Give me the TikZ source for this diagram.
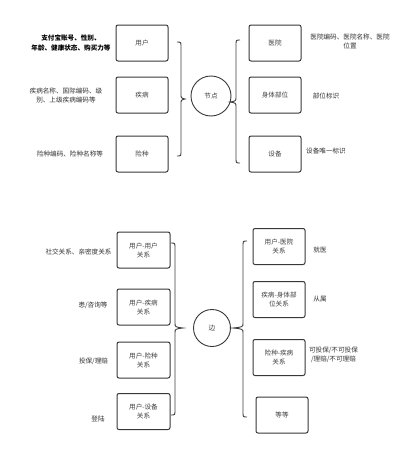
\documentclass[tikz,border=0pt]{standalone}
\usepackage{fontspec}
\setmainfont{Noto Sans CJK SC}
\usetikzlibrary{decorations.pathreplacing}
\begin{document}
\begin{tikzpicture}[x=1pt,y=-1pt,
  box/.style={draw=black!78,line width=1pt,rounded corners=2pt,minimum width=52pt,minimum height=36pt,inner sep=1pt,align=center,font=\fontsize{6.6}{9}\selectfont,text=black!75},
  circ/.style={draw=black!78,line width=0.9pt,ellipse,minimum width=42pt,minimum height=37pt,inner sep=0pt,font=\fontsize{6.6}{9}\selectfont,text=black!75},
  lbl/.style={align=center,inner sep=0pt,font=\fontsize{6.6}{9}\selectfont,text=black!80},
  brc/.style={draw=black!75,line width=0.9pt},
]
\useasboundingbox (0,0) rectangle (408,450);
\fill[white] (0,0) rectangle (408,450);
% ---------- top half ----------
\node[box] (u) at (142,43) {用户};
\node[box] (d) at (142,95) {疾病};
\node[box] (i) at (142,154) {险种};
\node[box] (h) at (275,43) {医院};
\node[box] (b) at (275,95) {身体部位};
\node[box] (e) at (275,154) {设备};
\node[draw=black!78,line width=0.9pt,circle,minimum size=40pt,inner sep=0pt,font=\fontsize{6.6}{9}\selectfont,text=black!75] (n) at (211,96) {节点};
\node[lbl,font=\fontsize{6.6}{10}\selectfont\bfseries,text=black] (lu) at (71,43) {支付宝账号、性别、\\年龄、健康状态、购买力等};
\node[lbl] (ld) at (66,95) {疾病名称、国际编码、级\\别、上级疾病编码等};
\node[lbl] (li) at (70,154) {险种编码、险种名称等};
\node[lbl] (lh) at (350,41) {医院编码、医院名称、医院\\位置};
\node[lbl] (lb) at (326,96) {部位标识};
\node[lbl] (le) at (326,151) {设备唯一标识};
% braces top
\draw[brc] (177,42) .. controls (181,42) .. (181,47) -- (181,94) .. controls (181,98) .. (185,99) .. controls (181,100) .. (181,104) -- (181,151) .. controls (181,156) .. (177,156);
\draw[brc] (240,40) .. controls (236,40) .. (236,45) -- (236,97) .. controls (236,101) .. (230,102) .. controls (236,103) .. (236,107) -- (236,158) .. controls (236,163) .. (240,163);
% ---------- bottom half ----------
\node[box,minimum width=53pt] (uu) at (143.5,250) {用户-用户\\关系};
\node[box,minimum width=53pt] (ud) at (143.5,307) {用户-疾病\\关系};
\node[box,minimum width=53pt] (ui) at (143.5,360) {用户-险种\\关系};
\node[box,minimum width=53pt] (ue) at (143.5,411.5) {用户-设备\\关系};
\node[box] (uh) at (279,246.5) {用户-医院\\关系};
\node[box] (db) at (279,299.5) {疾病-身体部\\位关系};
\node[box] (id) at (279,357.5) {险种-疾病\\关系};
\node[box] (etc) at (282,415) {等等};
\node[draw=black!78,line width=0.9pt,circle,minimum size=37pt,inner sep=0pt,font=\fontsize{6.6}{9}\selectfont,text=black!75] (edge) at (212,328) {边};
\node[lbl] (luu) at (78.5,252) {社交关系、亲密度关系};
\node[lbl] (lud) at (93,305) {患/咨询等};
\node[lbl] (lui) at (93.5,361) {投保/理赔};
\node[lbl] (lue) at (98,419) {登陆};
\node[lbl] (luh) at (320,250) {就医};
\node[lbl] (ldb) at (320,299) {从属};
\node[lbl] (lid) at (333.5,354.5) {可投保/不可投保\\/理赔/不可理赔};
% braces bottom
\draw[brc] (171,243) .. controls (175,243) .. (175,248) -- (175,323) .. controls (175,327) .. (183,328) .. controls (175,329) .. (175,333) -- (175,410) .. controls (175,415) .. (171,415);
\draw[brc] (247,241) .. controls (243,241) .. (243,246) -- (243,323) .. controls (243,327) .. (233,328) .. controls (243,329) .. (243,333) -- (243,412) .. controls (243,417) .. (247,417);
\end{tikzpicture}
\end{document}
